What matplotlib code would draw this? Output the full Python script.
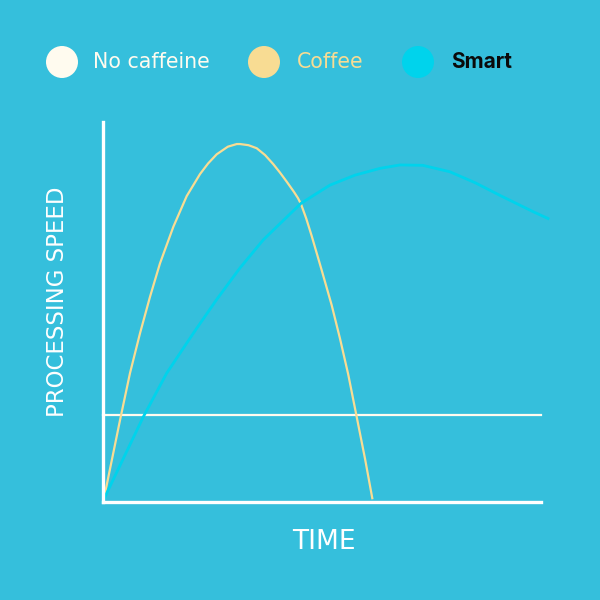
import matplotlib
matplotlib.use("Agg")
import matplotlib.pyplot as plt
from matplotlib.patches import Circle

# series (time 0-100, speed 0-100)
coffee_t = [0, 0.46, 4.04, 6.16, 8.45, 10.73, 13.01, 16.05, 19.11, 22.15, 24.0, 25.96,
            28.5, 30.53, 31.28, 33.2, 35.09, 37.0, 38.88, 40.4, 41.94, 43.6, 44.5,
            45.21, 46.4, 47.65, 49.93, 52.21, 54.11, 56.0, 57.92, 59.82, 61.48]
coffee_v = [0, 2.3, 22.4, 33.9, 44.4, 54.0, 62.8, 72.4, 80.5, 86.3, 89.1, 91.5,
            93.5, 94.2, 94.2, 93.9, 93.1, 91.3, 88.9, 86.7, 84.3, 81.6, 80.0,
            78.4, 74.6, 70.0, 61.0, 51.8, 43.0, 33.5, 22.4, 11.4, 1.0]

smart_t = [0, 0.46, 9.2, 14.54, 20.62, 25.96, 31.28, 36.6, 45.21, 51.83, 57.5, 63.24,
           67.8, 73.0, 79.2, 85.0, 90.6, 98.2, 101.6]
smart_v = [0, 1.4, 22.4, 33.9, 44.4, 53.3, 61.6, 69.0, 78.6, 83.4, 86.0, 87.8,
           88.7, 88.6, 86.9, 84.0, 80.7, 76.4, 74.6]

nocaf_t = [0, 100]
nocaf_v = [22.9, 22.9]

labels = ["No caffeine", "Coffee", "Smart"]
colors = ["#fffbef", "#f8dc93", "#00d3ec"]
text_colors = ["#fffbef", "#f8dc93", "#0a0a0a"]
bg = "#35bfdc"

fig = plt.figure(figsize=(6, 6), dpi=100, facecolor=bg)
ax = fig.add_axes([103/600, 98/600, 438/600, 380/600])
ax.set_facecolor(bg)
ax.set_xlim(0, 100)
ax.set_ylim(0, 100)

ax.plot(nocaf_t, nocaf_v, color=colors[0], lw=1.6, clip_on=False)
ax.plot(coffee_t, coffee_v, color=colors[1], lw=1.6, clip_on=False,
        solid_joinstyle="round")
ax.plot(smart_t, smart_v, color=colors[2], lw=2.0, clip_on=False,
        solid_joinstyle="round")

for s in ["top", "right"]:
    ax.spines[s].set_visible(False)
for s in ["left", "bottom"]:
    ax.spines[s].set_color("white")
    ax.spines[s].set_linewidth(2.4)
ax.set_xticks([])
ax.set_yticks([])

fig.text(324/600, 1 - 542/600, "TIME", color="white", fontsize=19, family="DejaVu Sans",
         ha="center", va="center")
fig.text(58/600, 1 - 302/600, "PROCESSING SPEED", color="white", fontsize=16.5,
         family="DejaVu Sans", rotation=90, ha="center", va="center")

# legend
cx = [62, 264, 418]
tx = [93, 297, 451]
for i in range(3):
    fig.patches.append(Circle((cx[i]/600, 1 - 62/600), 16/600, transform=fig.transFigure,
                              facecolor=colors[i], edgecolor="none"))
    fig.text(tx[i]/600, 1 - 62/600, labels[i], color=text_colors[i],
             fontsize=15 if i == 2 else 14.8,
             family="Inter" if i == 2 else "DejaVu Sans",
             fontweight="bold" if i == 2 else "normal", ha="left", va="center")

fig.savefig("out.png", dpi=100, facecolor=bg)
